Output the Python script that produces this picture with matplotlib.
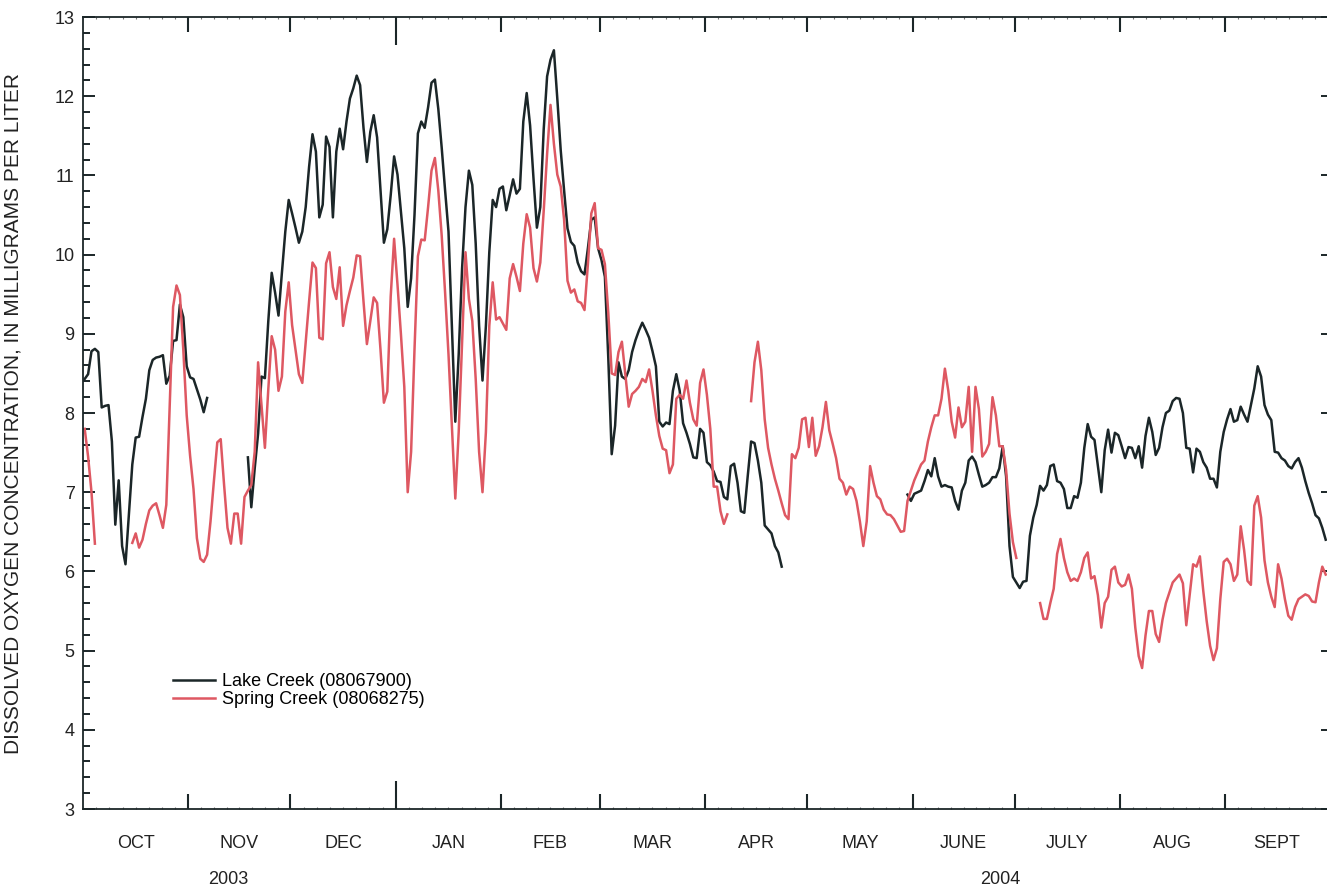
import numpy as np
import pandas as pd
import matplotlib
matplotlib.use("Agg")
import matplotlib.pyplot as plt
import matplotlib.dates as mdates
from matplotlib.ticker import MultipleLocator, FixedLocator

plt.rcParams['font.family'] = ['Liberation Sans', 'DejaVu Sans']

# daily mean dissolved oxygen, mg/L, gaps = no record
lake_starts = ["2003-10-01", "2003-11-18", "2004-05-30"]
lake_seg1 = [8.43, 8.49, 8.78, 8.81, 8.77, 8.07, 8.09, 8.10, 7.64, 6.59,
             7.15, 6.32, 6.09, 6.73, 7.35, 7.69, 7.70, 7.95, 8.18, 8.54,
             8.67, 8.70, 8.71, 8.73, 8.37, 8.47, 8.91, 8.92, 9.37, 9.21,
             8.59, 8.45, 8.43, 8.30, 8.17, 8.01, 8.19]
lake_seg2 = [7.44, 6.81, 7.30, 7.74, 8.46, 8.44, 9.16, 9.77, 9.52, 9.23,
             9.77, 10.29, 10.69, 10.52, 10.34, 10.15, 10.29, 10.60, 11.11, 11.52,
             11.30, 10.47, 10.63, 11.49, 11.36, 10.47, 11.30, 11.59, 11.33, 11.68,
             11.97, 12.10, 12.26, 12.14, 11.60, 11.17, 11.55, 11.76, 11.48, 10.81,
             10.15, 10.32, 10.75, 11.24, 11.01, 10.55, 10.08, 9.34, 9.70, 10.50,
             11.53, 11.68, 11.60, 11.86, 12.17, 12.21, 11.84, 11.35, 10.81, 10.29,
             9.10, 7.89, 8.74, 9.83, 10.60, 11.06, 10.88, 10.14, 9.10, 8.41,
             9.10, 10.03, 10.69, 10.60, 10.83, 10.86, 10.56, 10.75, 10.95, 10.77,
             10.83, 11.68, 12.04, 11.63, 10.96, 10.34, 10.60, 11.58, 12.25, 12.46,
             12.58, 11.97, 11.32, 10.81, 10.33, 10.16, 10.11, 9.90, 9.79, 9.75,
             10.08, 10.44, 10.47, 10.08, 9.93, 9.72, 8.69, 7.48, 7.84, 8.64,
             8.46, 8.43, 8.54, 8.77, 8.92, 9.04, 9.14, 9.05, 8.95, 8.78,
             8.59, 7.89, 7.83, 7.88, 7.86, 8.28, 8.49, 8.28, 7.87, 7.75,
             7.61, 7.44, 7.43, 7.80, 7.75, 7.38, 7.34, 7.26, 7.14, 7.13,
             6.94, 6.91, 7.33, 7.36, 7.12, 6.76, 6.74, 7.20, 7.64, 7.62,
             7.40, 7.12, 6.58, 6.53, 6.48, 6.32, 6.24, 6.06]
lake_seg3 = [6.97, 6.89, 6.98, 7.00, 7.02, 7.14, 7.28, 7.20, 7.43, 7.20,
             7.07, 7.09, 7.07, 7.06, 6.89, 6.78, 7.02, 7.12, 7.40, 7.45,
             7.38, 7.22, 7.07, 7.09, 7.12, 7.19, 7.19, 7.30, 7.58, 7.20,
             6.32, 5.93, 5.86, 5.79, 5.87, 5.88, 6.45, 6.68, 6.84, 7.08,
             7.02, 7.09, 7.33, 7.35, 7.14, 7.12, 7.04, 6.80, 6.80, 6.95,
             6.93, 7.12, 7.56, 7.86, 7.70, 7.66, 7.33, 7.00, 7.53, 7.79,
             7.50, 7.75, 7.72, 7.58, 7.43, 7.57, 7.56, 7.43, 7.58, 7.31,
             7.71, 7.94, 7.76, 7.47, 7.56, 7.82, 8.00, 8.03, 8.15, 8.19,
             8.18, 8.00, 7.56, 7.55, 7.25, 7.55, 7.51, 7.38, 7.31, 7.17,
             7.17, 7.06, 7.51, 7.76, 7.92, 8.05, 7.89, 7.91, 8.08, 7.98,
             7.89, 8.10, 8.31, 8.59, 8.46, 8.10, 7.98, 7.91, 7.51, 7.50,
             7.43, 7.40, 7.33, 7.30, 7.38, 7.43, 7.31, 7.14, 6.99, 6.86,
             6.71, 6.67, 6.55, 6.40]

spring_starts = ["2003-10-01", "2003-10-15", "2004-04-14", "2004-07-08"]
spring_seg1 = [7.80, 7.45, 7.00, 6.35]
spring_seg2 = [6.36, 6.48, 6.30, 6.40, 6.60, 6.77, 6.83, 6.86, 6.71, 6.55,
               6.84, 8.07, 9.34, 9.61, 9.49, 8.80, 7.97, 7.46, 7.04, 6.42,
               6.16, 6.12, 6.21, 6.63, 7.14, 7.63, 7.67, 7.09, 6.55, 6.35,
               6.73, 6.73, 6.35, 6.94, 7.02, 7.09, 7.51, 8.64, 8.10, 7.56,
               8.30, 8.97, 8.80, 8.28, 8.46, 9.28, 9.65, 9.11, 8.80, 8.49,
               8.38, 8.90, 9.41, 9.90, 9.83, 8.95, 8.93, 9.89, 10.03, 9.59,
               9.44, 9.84, 9.10, 9.36, 9.54, 9.71, 9.99, 9.98, 9.41, 8.87,
               9.16, 9.46, 9.39, 8.80, 8.13, 8.27, 9.47, 10.20, 9.62, 9.00,
               8.33, 7.00, 7.51, 8.80, 9.98, 10.19, 10.18, 10.60, 11.06, 11.22,
               10.81, 10.24, 9.52, 8.74, 7.82, 6.92, 7.76, 8.90, 10.03, 9.44,
               9.16, 8.43, 7.51, 7.00, 7.76, 9.10, 9.65, 9.18, 9.21, 9.13,
               9.05, 9.70, 9.88, 9.72, 9.54, 10.14, 10.51, 10.34, 9.83, 9.66,
               9.90, 10.55, 11.27, 11.89, 11.40, 11.01, 10.86, 10.44, 9.67, 9.52,
               9.56, 9.41, 9.39, 9.30, 9.88, 10.52, 10.65, 10.08, 10.06, 9.88,
               9.26, 8.50, 8.48, 8.77, 8.90, 8.49, 8.08, 8.24, 8.28, 8.33,
               8.43, 8.39, 8.55, 8.28, 7.97, 7.71, 7.55, 7.53, 7.24, 7.35,
               8.18, 8.23, 8.18, 8.41, 8.13, 7.92, 7.84, 8.38, 8.55, 8.23,
               7.80, 7.07, 7.07, 6.76, 6.60, 6.72]
spring_seg3 = [8.15, 8.64, 8.90, 8.54, 7.92, 7.56, 7.35, 7.17, 7.02, 6.86,
               6.71, 6.66, 7.48, 7.43, 7.56, 7.92, 7.94, 7.57, 7.94, 7.46,
               7.58, 7.82, 8.14, 7.78, 7.61, 7.43, 7.17, 7.12, 6.97, 7.07,
               7.04, 6.89, 6.63, 6.32, 6.63, 7.33, 7.12, 6.95, 6.91, 6.78,
               6.72, 6.71, 6.66, 6.58, 6.50, 6.51, 6.89, 7.02, 7.15, 7.25,
               7.35, 7.40, 7.64, 7.82, 7.97, 7.97, 8.18, 8.56, 8.28, 7.89,
               7.69, 8.07, 7.82, 7.89, 8.33, 7.51, 8.33, 8.05, 7.45, 7.51,
               7.61, 8.20, 7.97, 7.58, 7.58, 7.28, 6.73, 6.37, 6.17]
spring_seg4 = [5.60, 5.40, 5.40, 5.60, 5.78, 6.22, 6.41, 6.17, 5.99, 5.88,
               5.91, 5.88, 5.99, 6.17, 6.24, 5.91, 5.94, 5.70, 5.29, 5.60,
               5.68, 6.02, 6.06, 5.86, 5.81, 5.83, 5.96, 5.78, 5.29, 4.93,
               4.78, 5.19, 5.50, 5.50, 5.21, 5.11, 5.39, 5.60, 5.73, 5.86,
               5.91, 5.96, 5.85, 5.32, 5.70, 6.09, 6.06, 6.19, 5.75, 5.37,
               5.06, 4.88, 5.03, 5.65, 6.12, 6.16, 6.09, 5.88, 5.96, 6.57,
               6.27, 5.88, 5.83, 6.83, 6.95, 6.68, 6.14, 5.86, 5.68, 5.55,
               6.09, 5.91, 5.65, 5.44, 5.39, 5.55, 5.65, 5.68, 5.71, 5.69,
               5.62, 5.61, 5.86, 6.06, 5.96]

month_names = ["OCT", "NOV", "DEC", "JAN", "FEB", "MAR", "APR", "MAY",
               "JUNE", "JULY", "AUG", "SEPT"]

days = pd.date_range("2003-10-01", "2004-09-30", freq="D")


def build(starts, segs):
    parts = [pd.Series(v, index=pd.date_range(s, periods=len(v), freq="D"))
             for s, v in zip(starts, segs)]
    return pd.concat(parts).reindex(days)


lake = build(lake_starts, [lake_seg1, lake_seg2, lake_seg3])
spring = build(spring_starts, [spring_seg1, spring_seg2, spring_seg3, spring_seg4])
x = days + pd.Timedelta(hours=12)

ink = "#1b2628"
red = "#de5862"
txt = "#222222"

fig = plt.figure(figsize=(13.27, 8.88), dpi=100)
ax = fig.add_axes([83 / 1327, 79 / 888, 1244.4 / 1327, 792 / 888])

ax.plot(x, lake.values, color=ink, lw=1.8, label="Lake Creek (08067900)")
ax.plot(x, spring.values, color=red, lw=1.8, label="Spring Creek (08068275)")

start = pd.Timestamp("2003-10-01")
end = pd.Timestamp("2004-10-01")
ax.set_xlim(start, end)
ax.set_ylim(3, 13)

# month ticks (long one at the new year), small marks in between
month_starts = pd.date_range(start, end, freq="MS")
ax.xaxis.set_major_locator(FixedLocator(mdates.date2num(month_starts[1:-1])))
ax.xaxis.set_major_formatter(plt.NullFormatter())
minor = []
for a, b in zip(month_starts[:-1], month_starts[1:]):
    a_n, b_n = mdates.date2num(a), mdates.date2num(b)
    minor += [a_n + k * (b_n - a_n) / 8 for k in range(1, 8)]
ax.xaxis.set_minor_locator(FixedLocator(minor))
ax.tick_params(axis="x", which="major", direction="in", length=11, width=1.5,
               color=ink, top=True, bottom=True)
ax.tick_params(axis="x", which="minor", direction="in", length=1.5, width=0.8,
               color="#777777", top=True, bottom=True)
for t, d in zip(ax.xaxis.get_major_ticks(), month_starts[1:-1]):
    if d.month == 1:
        t.tick1line.set_markersize(20)
        t.tick2line.set_markersize(20)

ax.yaxis.set_major_locator(MultipleLocator(1))
ax.yaxis.set_minor_locator(MultipleLocator(0.2))
ax.tick_params(axis="y", which="major", direction="in", length=8.5, width=1.4,
               color=ink, labelsize=13, labelcolor=txt, pad=6, right=True, left=True)
ax.tick_params(axis="y", which="minor", direction="in", length=5, width=1.4,
               color=ink, left=True, right=False)
for t in ax.yaxis.get_major_ticks():
    t.tick2line.set_markersize(4)

for side in ["left", "top", "bottom"]:
    ax.spines[side].set_color(ink)
    ax.spines[side].set_linewidth(1.3)
ax.spines["right"].set_visible(False)

# month and year labels
for a, b, name in zip(month_starts[:-1], month_starts[1:], month_names):
    mid = a + (b - a) / 2
    ax.text(mid, -0.043, name, transform=ax.get_xaxis_transform(),
            ha="center", va="center", fontsize=13, color=txt)
ax.text((228 - 83) / 1244.4, -0.0885, "2003", transform=ax.transAxes,
        ha="center", va="center", fontsize=13, color=txt)
ax.text((1000 - 83) / 1244.4, -0.0885, "2004", transform=ax.transAxes,
        ha="center", va="center", fontsize=13, color=txt)

ax.set_ylabel("DISSOLVED OXYGEN CONCENTRATION, IN MILLIGRAMS PER LITER",
              fontsize=15, color=txt)
ax.yaxis.set_label_coords((23 - 83) / 1244.4, 0.5)

ax.legend(loc="upper left", bbox_to_anchor=((173 - 83) / 1244.4, (809 - 673) / 792),
          frameon=False, fontsize=13, handlelength=2.35, handletextpad=0.35,
          labelspacing=0.05, borderpad=0, borderaxespad=0)

fig.savefig("out.png", dpi=100)
